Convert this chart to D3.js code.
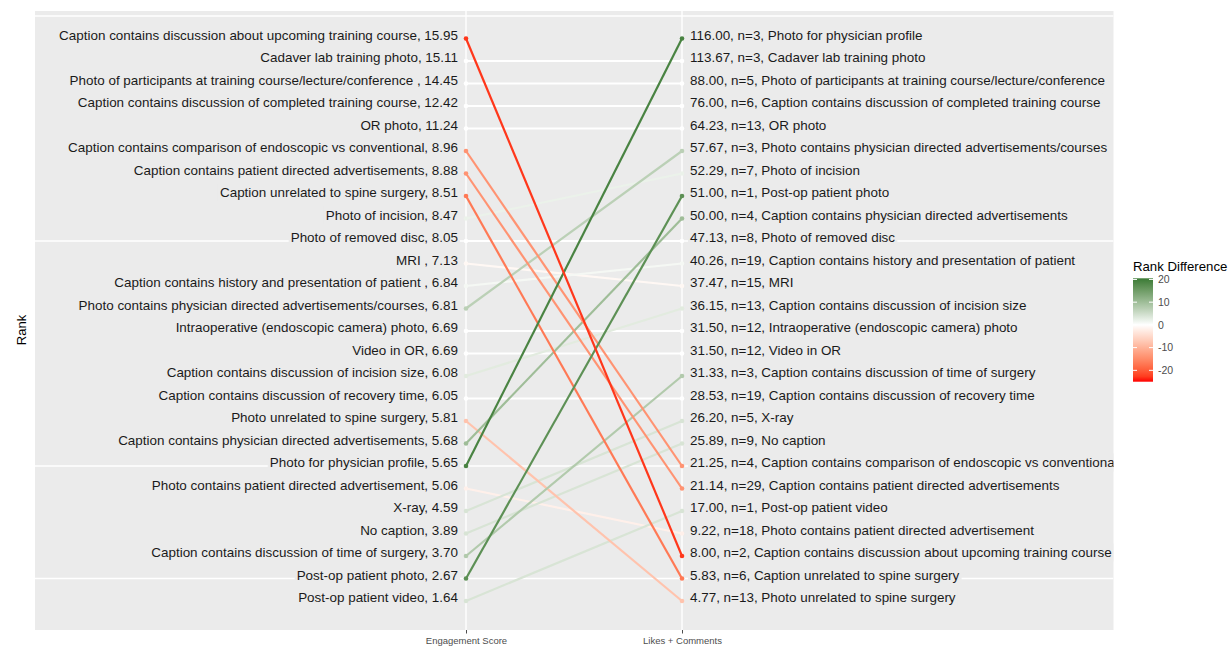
<!DOCTYPE html>
<html>
<head>
<meta charset="utf-8">
<script src="https://cdn.jsdelivr.net/npm/d3@7"></script>
<style>
  html, body { margin: 0; padding: 0; background: #fff; }
  svg { display: block; font-family: "Liberation Sans", Arial, sans-serif; }
</style>
</head>
<body>
<svg id="chart" width="1229" height="656"></svg>
<script>
// ---------------- DATA ----------------
// Left column: ordered by Engagement Score (rank 1 = top)
const engagementCategories = [
  "Caption contains discussion about upcoming training course",
  "Cadaver lab training photo",
  "Photo of participants at training course/lecture/conference ",
  "Caption contains discussion of completed training course",
  "OR photo",
  "Caption contains comparison of endoscopic vs conventional",
  "Caption contains patient directed advertisements",
  "Caption unrelated to spine surgery",
  "Photo of incision",
  "Photo of removed disc",
  "MRI ",
  "Caption contains history and presentation of patient ",
  "Photo contains physician directed advertisements/courses",
  "Intraoperative (endoscopic camera) photo",
  "Video in OR",
  "Caption contains discussion of incision size",
  "Caption contains discussion of recovery time",
  "Photo unrelated to spine surgery",
  "Caption contains physician directed advertisements",
  "Photo for physician profile",
  "Photo contains patient directed advertisement",
  "X-ray",
  "No caption",
  "Caption contains discussion of time of surgery",
  "Post-op patient photo",
  "Post-op patient video"
];
const engagementScores = [15.95, 15.11, 14.45, 12.42, 11.24, 8.96, 8.88, 8.51, 8.47, 8.05,
  7.13, 6.84, 6.81, 6.69, 6.69, 6.08, 6.05, 5.81, 5.68, 5.65, 5.06, 4.59, 3.89, 3.70, 2.67, 1.64];

// Right column: ordered by mean Likes + Comments (rank 1 = top)
const likesCategories = [
  "Photo for physician profile",
  "Cadaver lab training photo",
  "Photo of participants at training course/lecture/conference",
  "Caption contains discussion of completed training course",
  "OR photo",
  "Photo contains physician directed advertisements/courses",
  "Photo of incision",
  "Post-op patient photo",
  "Caption contains physician directed advertisements",
  "Photo of removed disc",
  "Caption contains history and presentation of patient",
  "MRI",
  "Caption contains discussion of incision size",
  "Intraoperative (endoscopic camera) photo",
  "Video in OR",
  "Caption contains discussion of time of surgery",
  "Caption contains discussion of recovery time",
  "X-ray",
  "No caption",
  "Caption contains comparison of endoscopic vs conventional",
  "Caption contains patient directed advertisements",
  "Post-op patient video",
  "Photo contains patient directed advertisement",
  "Caption contains discussion about upcoming training course",
  "Caption unrelated to spine surgery",
  "Photo unrelated to spine surgery"
];
const likesComments = [116.00, 113.67, 88.00, 76.00, 64.23, 57.67, 52.29, 51.00, 50.00, 47.13,
  40.26, 37.47, 36.15, 31.50, 31.50, 31.33, 28.53, 26.20, 25.89, 21.25, 21.14, 17.00, 9.22, 8.00, 5.83, 4.77];
const nPosts = [3, 3, 5, 6, 13, 3, 7, 1, 4, 8, 19, 15, 13, 12, 12, 3, 19, 5, 9, 4, 29, 1, 18, 2, 6, 13];

const columns = ["Engagement Score", "Likes + Comments"];
const legendTicks = [20, 10, 0, -10, -20];
const gridRanks = [0, 10, 20, 25];

// ---------------- BUILD ----------------
const rows = engagementCategories.map((c, i) => {
  const name = c.trim();
  const j = likesCategories.indexOf(name);
  return { name, leftRank: i + 1, rightRank: j + 1, diff: (i + 1) - (j + 1) };
});

const svg = d3.select("#chart");
const panel = { x0: 35, x1: 1113.5, y0: 11, y1: 630 };

const x = d3.scalePoint().domain(columns).range([466, 682]);
const y = d3.scaleLinear().domain([1, 26]).range([38.5, 601]);

const color = d3.scaleLinear()
  .domain([-25, 0, 20.5])
  .range(["#ff0000", "#ffffff", "#3a7a34"])
  .interpolate(d3.interpolateLab);

// clip
svg.append("defs").append("clipPath").attr("id", "pclip")
  .append("rect").attr("x", panel.x0).attr("y", panel.y0)
  .attr("width", panel.x1 - panel.x0).attr("height", panel.y1 - panel.y0);

// panel
svg.append("rect").attr("x", panel.x0).attr("y", panel.y0)
  .attr("width", panel.x1 - panel.x0).attr("height", panel.y1 - panel.y0)
  .attr("fill", "#ebebeb");

const g = svg.append("g").attr("clip-path", "url(#pclip)");

// grid
g.selectAll("line.hg").data(gridRanks).join("line")
  .attr("x1", panel.x0).attr("x2", panel.x1)
  .attr("y1", d => y(d)).attr("y2", d => y(d))
  .attr("stroke", "#fff").attr("stroke-width", 1.4);
g.selectAll("line.vg").data(columns).join("line")
  .attr("x1", d => x(d)).attr("x2", d => x(d))
  .attr("y1", panel.y0).attr("y2", panel.y1)
  .attr("stroke", "#fff").attr("stroke-width", 1.4);

// slope lines (draw smaller |diff| first)
const sorted = rows.slice().sort((a, b) => Math.abs(a.diff) - Math.abs(b.diff));
g.selectAll("line.slope").data(sorted).join("line")
  .attr("x1", x(columns[0])).attr("x2", x(columns[1]))
  .attr("y1", d => y(d.leftRank)).attr("y2", d => y(d.rightRank))
  .attr("stroke", d => color(d.diff)).attr("stroke-width", 2.2);

g.selectAll("circle.lp").data(sorted).join("circle")
  .attr("cx", x(columns[0])).attr("cy", d => y(d.leftRank)).attr("r", 2.3)
  .attr("fill", d => color(d.diff));
g.selectAll("circle.rp").data(sorted).join("circle")
  .attr("cx", x(columns[1])).attr("cy", d => y(d.rightRank)).attr("r", 2.3)
  .attr("fill", d => color(d.diff));

// labels with panel-coloured boxes
function addLabels(data, xpos, anchor, fmt) {
  const lg = g.append("g");
  data.forEach((d, i) => {
    const cy = y(i + 1) - 3.5;
    const t = lg.append("text")
      .attr("x", xpos).attr("y", cy).attr("dy", "0.35em")
      .attr("text-anchor", anchor)
      .attr("font-size", 13.45).attr("fill", "#1a1a1a")
      .text(fmt(d, i));
    const bb = t.node().getBBox();
    lg.insert("rect", () => t.node())
      .attr("x", bb.x - 2).attr("y", cy - 9).attr("width", bb.width + 4).attr("height", 18)
      .attr("fill", "#ebebeb");
  });
}
addLabels(engagementCategories, 458, "end", (d, i) => `${d}, ${engagementScores[i].toFixed(2)}`);
addLabels(likesCategories, 690, "start", (d, i) => `${likesComments[i].toFixed(2)}, n=${nPosts[i]}, ${d}`);

// x axis
const xAxis = svg.append("g").attr("transform", `translate(0,${panel.y1})`)
  .call(d3.axisBottom(x).tickSize(3.5).tickPadding(3.5));
xAxis.select(".domain").remove();
xAxis.selectAll(".tick line").attr("stroke", "#4d4d4d");
xAxis.selectAll(".tick text").attr("fill", "#4d4d4d").attr("font-size", 9.5)
  .attr("font-family", "Liberation Sans, Arial, sans-serif");

// y title
svg.append("text").attr("transform", "translate(26,330) rotate(-90)")
  .attr("text-anchor", "middle").attr("font-size", 13).attr("fill", "#000").text("Rank");

// legend
const leg = svg.append("g");
leg.append("text").attr("x", 1133).attr("y", 271).attr("font-size", 13.2)
  .attr("fill", "#000").text("Rank Difference");
const ly = d3.scaleLinear().domain([-25, 20.5]).range([381.7, 278.3]);
const grad = svg.select("defs").append("linearGradient").attr("id", "lg")
  .attr("x1", 0).attr("y1", 1).attr("x2", 0).attr("y2", 0);
d3.range(0, 1.0001, 0.05).forEach(t => {
  const v = -25 + t * 45.5;
  grad.append("stop").attr("offset", t).attr("stop-color", color(v));
});
leg.append("rect").attr("x", 1133).attr("y", ly(20.5)).attr("width", 20)
  .attr("height", ly(-25) - ly(20.5)).attr("fill", "url(#lg)");
legendTicks.forEach(v => {
  leg.append("line").attr("x1", 1133).attr("x2", 1137).attr("y1", ly(v)).attr("y2", ly(v))
    .attr("stroke", "#fff").attr("stroke-width", 1);
  leg.append("line").attr("x1", 1149).attr("x2", 1153).attr("y1", ly(v)).attr("y2", ly(v))
    .attr("stroke", "#fff").attr("stroke-width", 1);
  leg.append("text").attr("x", 1158).attr("y", ly(v)).attr("dy", "0.35em")
    .attr("font-size", 10.5).attr("fill", "#4d4d4d").text(v);
});
</script>
</body>
</html>
